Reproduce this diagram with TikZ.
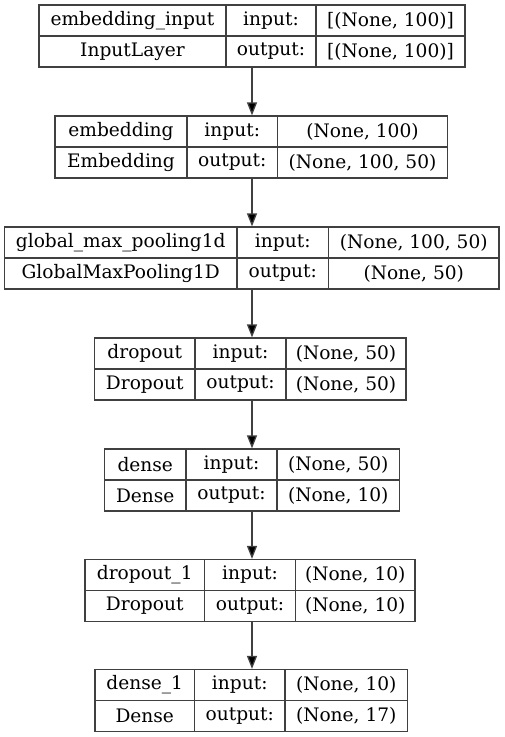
\documentclass[tikz,border=0pt]{standalone}
\usepackage{fontspec}
\setmainfont{DejaVu Serif}
\usetikzlibrary{arrows.meta}

% Geometry of one layer record: name, left, divider 1, divider 2, right, top
\newcommand\layerbox[9]{%
  \def\lbN{#1}\def\lbL{#2}\def\lbA{#3}\def\lbB{#4}\def\lbR{#5}\def\lbT{#6}%
  \def\lbLayer{#7}\def\lbClass{#8}\def\lbIn{#9}%
  \layerboxfinish}
\newcommand\layerboxfinish[1]{%
  \pgfmathsetmacro\lbWo{\lbR-\lbL}%
  \pgfmathsetmacro\lbWa{\lbA-\lbL}%
  \pgfmathsetmacro\lbWb{\lbB-\lbA}%
  \pgfmathsetmacro\lbWc{\lbR-\lbB}%
  \pgfmathsetmacro\lbXo{(\lbR+\lbL)/2}%
  \pgfmathsetmacro\lbXa{(\lbA+\lbL)/2}%
  \pgfmathsetmacro\lbXb{(\lbB+\lbA)/2}%
  \pgfmathsetmacro\lbXc{(\lbR+\lbB)/2}%
  \pgfmathsetmacro\lbYo{\lbT+31}%
  \pgfmathsetmacro\lbYt{\lbT+15.5}%
  \pgfmathsetmacro\lbYb{\lbT+46.5}%
  \node[recbox, minimum width=\lbWo pt] (\lbN) at (\lbXo,\lbYo) {};
  \node[cell, minimum width=\lbWa pt] (\lbN-l) at (\lbXa,\lbYt) {\lbLayer};
  \node[cell, minimum width=\lbWa pt] (\lbN-c) at (\lbXa,\lbYb) {\lbClass};
  \node[cell, minimum width=\lbWb pt] (\lbN-i) at (\lbXb,\lbYt) {input:};
  \node[cell, minimum width=\lbWb pt] (\lbN-o) at (\lbXb,\lbYb) {output:};
  \node[cell, minimum width=\lbWc pt] (\lbN-is) at (\lbXc,\lbYt) {\lbIn};
  \node[cell, minimum width=\lbWc pt] (\lbN-os) at (\lbXc,\lbYb) {#1};
}

\tikzset{
  rule/.style={draw=black!75, line width=1.2pt},
  recbox/.style={rule, inner sep=0pt, minimum height=62pt},
  cell/.style={rule, inner sep=0pt, minimum height=31pt,
    font=\fontsize{18.6}{21}\selectfont, text=black},
  flow/.style={draw=black!75, line width=1.3pt,
    -{Triangle[length=13pt, width=10pt, fill=black]}},
}

\begin{document}
\begin{tikzpicture}[x=1pt, y=-1pt]
  \fill[white] (0,0) rectangle (504,737);
  \useasboundingbox (0,0) rectangle (504,737);

  \layerbox{b1}{39}{226}{316}{465}{5}{embedding\_input}{InputLayer}{[(None, 100)]}{[(None, 100)]}
  \layerbox{b2}{55}{187}{277.5}{447.5}{116}{embedding}{Embedding}{(None, 100)}{(None, 100, 50)}
  \layerbox{b3}{4.5}{237}{328.5}{499}{227}{global\_max\_pooling1d}{GlobalMaxPooling1D}{(None, 100, 50)}{(None, 50)}
  \layerbox{b4}{94.5}{195}{286}{406}{338}{dropout}{Dropout}{(None, 50)}{(None, 50)}
  \layerbox{b5}{104.5}{186}{277}{399.5}{449}{dense}{Dense}{(None, 50)}{(None, 10)}
  \layerbox{b6}{85}{204.5}{295.5}{415}{559.5}{dropout\_1}{Dropout}{(None, 10)}{(None, 10)}
  \layerbox{b7}{95}{194.5}{285}{407.5}{669.5}{dense\_1}{Dense}{(None, 10)}{(None, 17)}

  % all connectors run down the common axis of the chain
  \foreach \a/\b in {b1/b2, b2/b3, b3/b4, b4/b5, b5/b6, b6/b7}
    \draw[flow] (\a.south -| b1.center) -- (\b.north -| b1.center);
\end{tikzpicture}
\end{document}
